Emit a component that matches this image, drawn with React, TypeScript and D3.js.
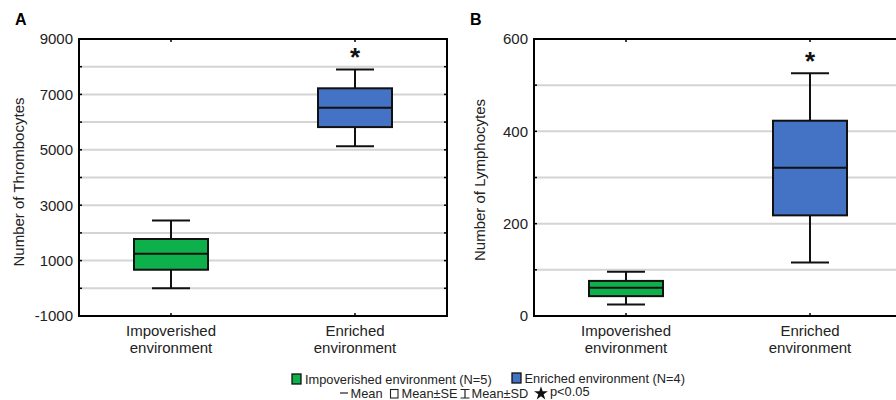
import React from "react";
import * as d3 from "d3";

const categories = ["Impoverished environment", "Enriched environment"];
const catLines = [["Impoverished", "environment"], ["Enriched", "environment"]];
const colors = ["#0db04b", "#4472c4"];

// [mean-SD, mean-SE, mean, mean+SE, mean+SD]
const thrombocytes = [
  [0, 670, 1250, 1780, 2450],
  [5130, 5820, 6520, 7220, 7900],
];
const lymphocytes = [
  [25, 43, 61, 76, 96],
  [116, 218, 321, 423, 526],
];
const thrombTicks = [9000, 7000, 5000, 3000, 1000, -1000];
const thrombGrid = [8000, 7000, 6000, 5000, 4000, 3000, 2000, 1000, 0];
const lymphTicks = [600, 400, 200, 0];
const lymphGrid = [500, 400, 300, 200, 100];
const significant = [false, true];

const FONT = "Liberation Sans, Arial, sans-serif";

type PanelProps = {
  left: number;
  letter: string;
  title: string;
  domain: [number, number];
  ticks: number[];
  grid: number[];
  data: number[][];
  titleX: number;
  titleY: number;
};

const TOP = 39;
const BOTTOM = 316;
const WIDTH = 368;

function Panel({ left, letter, title, domain, ticks, grid, data, titleX, titleY }: PanelProps) {
  const right = left + WIDTH;
  const y = d3.scaleLinear().domain(domain).range([BOTTOM, TOP]);
  const x = d3.scalePoint<string>().domain(categories).range([left, right]).padding(0.5);
  const boxW = 74;
  const capW = 38;
  return (
    <g>
      <text x={left - 64} y={25} fontFamily={FONT} fontWeight="bold" fontSize={16} fill="#000">
        {letter}
      </text>
      {grid.map((g) => (
        <line key={g} x1={left} x2={right} y1={y(g)} y2={y(g)} stroke="#d4d4d4" strokeWidth={2} />
      ))}
      {grid.map((g) => (
        <g key={"t" + g}>
          <line x1={right - 3} x2={right} y1={y(g)} y2={y(g)} stroke="#000" strokeWidth={1.5} />
          <line x1={left} x2={left + 3} y1={y(g)} y2={y(g)} stroke="#000" strokeWidth={1.5} />
        </g>
      ))}
      {ticks.map((t) => (
        <text
          key={t}
          x={left - 6}
          y={y(t)}
          dy="0.36em"
          textAnchor="end"
          fontFamily={FONT}
          fontSize={15}
          fill="#222"
        >
          {t}
        </text>
      ))}
      <text
        transform={`translate(${titleX},${titleY}) rotate(-90)`}
        textAnchor="middle"
        fontFamily={FONT}
        fontSize={15}
        fill="#222"
        dy="0.35em"
      >
        {title}
      </text>
      {data.map((d, i) => {
        const cx = x(categories[i])!;
        return (
          <g key={i}>
            <line x1={cx} x2={cx} y1={y(d[0])} y2={y(d[4])} stroke="#111" strokeWidth={2} />
            <line x1={cx - capW / 2} x2={cx + capW / 2} y1={y(d[0])} y2={y(d[0])} stroke="#111" strokeWidth={2} />
            <line x1={cx - capW / 2} x2={cx + capW / 2} y1={y(d[4])} y2={y(d[4])} stroke="#111" strokeWidth={2} />
            <rect
              x={cx - boxW / 2}
              y={y(d[3])}
              width={boxW}
              height={y(d[1]) - y(d[3])}
              fill={colors[i]}
              stroke="#111"
              strokeWidth={2}
            />
            <line x1={cx - boxW / 2} x2={cx + boxW / 2} y1={y(d[2])} y2={y(d[2])} stroke="#111" strokeWidth={2} />
            {significant[i] && (
              <text x={cx} y={y(d[4]) - 3} textAnchor="middle" fontFamily={FONT} fontWeight="bold" fontSize={26} fill="#111">
                *
              </text>
            )}
          </g>
        );
      })}
      {categories.map((c, i) => {
        const cx = x(c)!;
        return (
          <g key={c}>
            <line x1={cx} x2={cx} y1={TOP} y2={TOP + 3} stroke="#000" strokeWidth={1.5} />
            <line x1={cx} x2={cx} y1={BOTTOM} y2={BOTTOM - 3} stroke="#000" strokeWidth={1.5} />
            {catLines[i].map((l, j) => (
              <text
                key={j}
                x={cx}
                y={335.5 + j * 17}
                textAnchor="middle"
                fontFamily={FONT}
                fontSize={15}
                fill="#222"
              >
                {l}
              </text>
            ))}
          </g>
        );
      })}
      <rect x={left} y={TOP} width={WIDTH} height={BOTTOM - TOP} fill="none" stroke="#000" strokeWidth={2} />
    </g>
  );
}

export default function App() {
  return (
    <svg width={896} height={400} style={{ position: "absolute", left: 0, top: 0, background: "#fff" }}>
      <rect width={896} height={400} fill="#fff" />
      <Panel
        left={79}
        letter="A"
        title="Number of Thrombocytes"
        domain={[-1000, 9000]}
        ticks={thrombTicks}
        grid={thrombGrid}
        data={thrombocytes}
        titleX={18.5}
        titleY={182}
      />
      <Panel
        left={534}
        letter="B"
        title="Number of Lymphocytes"
        domain={[0, 600]}
        ticks={lymphTicks}
        grid={lymphGrid}
        data={lymphocytes}
        titleX={480}
        titleY={180}
      />
      {/* Legend */}
      <g fontFamily={FONT} fontSize={12.8} fill="#222">
        <rect x={292} y={374} width={9} height={10} fill={colors[0]} stroke="#111" strokeWidth={1.3} />
        <text x={305} y={383.5}>Impoverished environment (N=5)</text>
        <rect x={512} y={373} width={9} height={10} fill={colors[1]} stroke="#111" strokeWidth={1.3} />
        <text x={524.5} y={382.5}>Enriched environment (N=4)</text>
        <line x1={340} x2={348} y1={393} y2={393} stroke="#222" strokeWidth={1.2} />
        <text x={350.5} y={397.5}>Mean</text>
        <rect x={390.5} y={389.5} width={7.5} height={8.5} fill="none" stroke="#222" strokeWidth={1.1} />
        <text x={401.5} y={397.5}>Mean±SE</text>
        <path d="M460.5,389.5 H469.5 M465,389.5 V398 M460.5,398 H469.5" stroke="#222" strokeWidth={1.2} fill="none" />
        <text x={471.5} y={397.5}>Mean±SD</text>
        <path
          d={d3.symbol(d3.symbolStar, 60)()!}
          transform="translate(541,393.5)"
          fill="#111"
        />
        <text x={550} y={396}>p&lt;0.05</text>
      </g>
    </svg>
  );
}
